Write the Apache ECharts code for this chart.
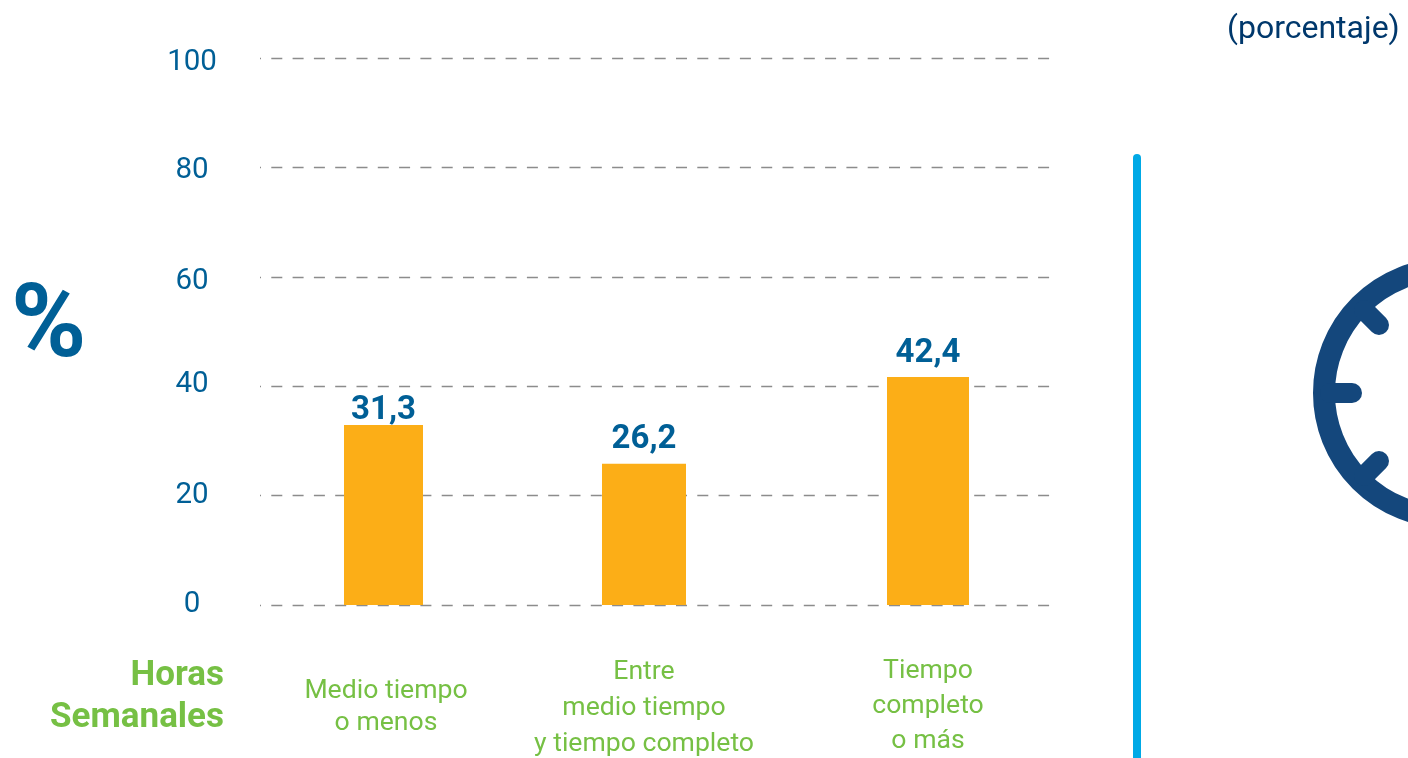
<!DOCTYPE html>
<html>
<head>
<meta charset="utf-8">
<style>html,body{margin:0;padding:0;background:#fff;overflow:hidden}#c{width:1408px;height:758px}</style>
<script src="https://cdn.jsdelivr.net/npm/echarts@6/dist/echarts.min.js"></script>
</head>
<body>
<div id="c"></div>
<script>
const categories = ['Medio tiempo\no menos', 'Entre\nmedio tiempo\ny tiempo completo', 'Tiempo\ncompleto\no más'];
const barHeights = [32.9, 25.8, 41.7];
const valueLabels = ['31,3', '26,2', '42,4'];
const yTicks = [0, 20, 40, 60, 80, 100];

const FONT = 'Roboto';
const BLUE = '#005f96', GREEN = '#76c044', ORANGE = '#fcae17', NAVY = '#14477c';

// layout of each column: grid box, bar width, label gaps
const columns = [
  { left: 283.5, barWidth: 79, labelGap: -2, axisMargin: 70, lineHeight: 32.5, pad: [0, 0, 0, 5] },
  { left: 544, barWidth: 84, labelGap: 8, axisMargin: 49, lineHeight: 36, pad: [0, 0, 0, 0] },
  { left: 828, barWidth: 82, labelGap: 7, axisMargin: 49, lineHeight: 35, pad: [0, 0, 0, 0] }
];
const plotTop = 58, plotHeight = 547, colW = 200;
const yShift = { 100: 'a', 80: 'b', 60: 'c', 40: 'd', 20: 'e', 0: 'e' };
const tickFont = { color: BLUE, fontFamily: FONT, fontSize: 29.5 };

const grids = [{ left: 260, width: 792, top: plotTop, height: plotHeight, outerBoundsMode: 'none' }];
const xAxes = [{ gridIndex: 0, type: 'category', data: [''], show: false }];
const yAxes = [{
  gridIndex: 0, type: 'value', min: 0, max: yTicks[yTicks.length - 1], interval: yTicks[1],
  axisLine: { show: false }, axisTick: { show: false },
  splitLine: { show: true, lineStyle: { color: '#8c8c8c', width: 1.3, type: [11, 10.3], dashOffset: 10 } },
  axisLabel: {
    margin: 68, align: 'center', ...tickFont,
    formatter: v => `{${yShift[v]}|${v}}`,
    rich: {
      a: { ...tickFont, padding: [10, 0, 0, 0] },
      b: { ...tickFont, padding: [6, 0, 0, 0] },
      c: { ...tickFont, padding: [10, 0, 0, 0] },
      d: { ...tickFont, padding: [0, 0, 4, 0] },
      e: { ...tickFont, padding: [0, 0, 0, 0] }
    }
  }
}];
const series = [];
categories.forEach((cat, i) => {
  const c = columns[i], g = i + 1;
  grids.push({ left: c.left, width: colW, top: plotTop, height: plotHeight, outerBoundsMode: 'none' });
  xAxes.push({
    gridIndex: g, type: 'category', data: [cat],
    axisLine: { show: false }, axisTick: { show: false },
    axisLabel: {
      margin: c.axisMargin, color: GREEN, fontFamily: FONT, fontSize: 26.6,
      lineHeight: c.lineHeight, padding: c.pad, interval: 0
    }
  });
  yAxes.push({ gridIndex: g, type: 'value', min: 0, max: 100, show: false, splitLine: { show: false } });
  series.push({
    type: 'bar', xAxisIndex: g, yAxisIndex: g, data: [barHeights[i]],
    barWidth: c.barWidth, itemStyle: { color: ORANGE }, silent: true, animation: false,
    label: {
      show: true, position: 'top', distance: c.labelGap,
      formatter: () => valueLabels[i],
      color: BLUE, fontFamily: FONT, fontSize: 33, fontWeight: 'bold'
    }
  });
});

const graphic = [
  { type: 'text', left: 1227, top: 14, style: { text: '(porcentaje)', fill: '#00386c', font: '32px ' + FONT } },
  { type: 'text', left: 11, top: 279, style: { text: '%', fill: BLUE, font: 'bold 102px ' + FONT } },
  { type: 'text', style: { x: 224, y: 659, text: 'Horas', textAlign: 'right', fill: GREEN, font: 'bold 35px ' + FONT } },
  { type: 'text', style: { x: 224, y: 701, text: 'Semanales', textAlign: 'right', fill: GREEN, font: 'bold 35px ' + FONT } },
  { type: 'line', shape: { x1: 1137, y1: 158, x2: 1137, y2: 770 }, style: { stroke: '#00a9e6', lineWidth: 8, lineCap: 'round' } },
  { type: 'circle', shape: { cx: 1448, cy: 393, r: 124 }, style: { fill: 'none', stroke: NAVY, lineWidth: 22 } },
  { type: 'line', shape: { x1: 1330, y1: 393, x2: 1352, y2: 393 }, style: { stroke: NAVY, lineWidth: 20, lineCap: 'round' } },
  { type: 'line', shape: { x1: 1364, y1: 310, x2: 1379, y2: 325 }, style: { stroke: NAVY, lineWidth: 20, lineCap: 'round' } },
  { type: 'line', shape: { x1: 1364, y1: 476, x2: 1379, y2: 461 }, style: { stroke: NAVY, lineWidth: 20, lineCap: 'round' } }
];

const chart = echarts.init(document.getElementById('c'), null, { renderer: 'canvas', width: 1408, height: 758 });
chart.setOption({ animation: false, backgroundColor: '#fff', grid: grids, xAxis: xAxes, yAxis: yAxes, series, graphic });
</script>
</body>
</html>
